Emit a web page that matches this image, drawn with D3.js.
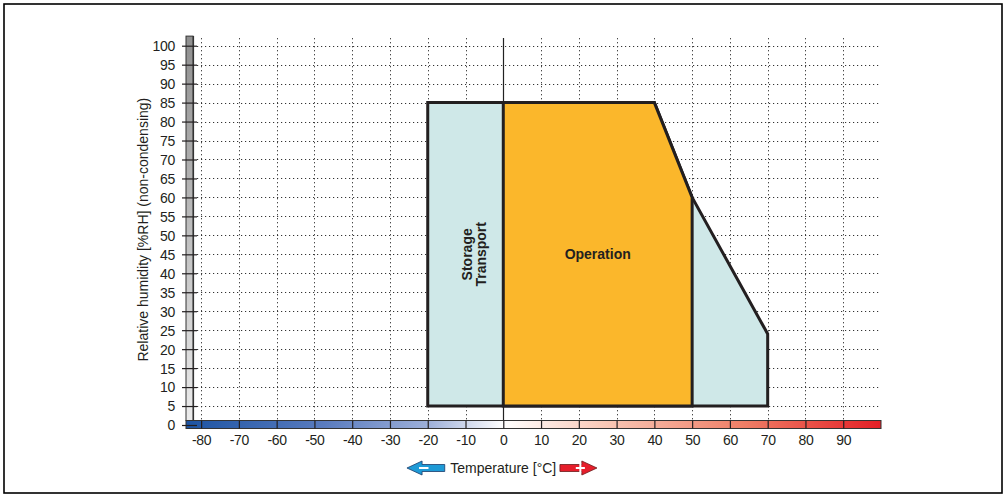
<!DOCTYPE html>
<html>
<head>
<meta charset="utf-8">
<script src="https://cdn.jsdelivr.net/npm/d3@7"></script>
<style>
  html, body { margin: 0; padding: 0; background: #fff; }
  svg { display: block; }
  text { font-family: "Liberation Sans Narrow", "Arial Narrow", "Liberation Sans", Arial, sans-serif; fill: #231f20; }
</style>
</head>
<body>
<svg id="chart" width="1007" height="495"></svg>
<script>
// Temperature / humidity envelope
const xTicks = [-80, -70, -60, -50, -40, -30, -20, -10, 0, 10, 20, 30, 40, 50, 60, 70, 80, 90];
const yTicks = [0, 5, 10, 15, 20, 25, 30, 35, 40, 45, 50, 55, 60, 65, 70, 75, 80, 85, 90, 95, 100];
const storageTemp = [-20, -20, 40, 50, 70, 70];
const storageHum  = [5, 85, 85, 60, 24, 5];
const operationTemp = [0, 0, 40, 50, 50];
const operationHum  = [5, 85, 85, 60, 5];
const areaLabels = ["Storage", "Transport"];
const operationLabel = "Operation";
const xTitle = "Temperature [°C]";
const yTitle = "Relative humidity [%RH] (non-condensing)";
const tempRange = [-84, 100];

const svg = d3.select("#chart");
const x = d3.scaleLinear().domain(tempRange).range([186, 881]);
const y = d3.scaleLinear().domain([0, 100]).range([425, 45.7]);

// outer frame
svg.append("rect").attr("x", 4).attr("y", 4).attr("width", 998).attr("height", 489)
  .attr("fill", "none").attr("stroke", "#000").attr("stroke-width", 1.6);

const defs = svg.append("defs");
const tg = defs.append("linearGradient").attr("id", "tempGrad");
[[0, "#1d54a3"], [0.2, "#5a7cbf"], [0.35, "#9eb0d9"], [0.457, "#ffffff"], [0.6, "#f9c9b8"], [0.8, "#ef7f67"], [1, "#e41f26"]]
  .forEach(([o, c]) => tg.append("stop").attr("offset", o).attr("stop-color", c));
const hg = defs.append("linearGradient").attr("id", "humGrad").attr("x1", 0).attr("y1", 0).attr("x2", 0).attr("y2", 1);
[[0, "#8f8f8f"], [1, "#ececec"]].forEach(([o, c]) => hg.append("stop").attr("offset", o).attr("stop-color", c));

const barTop = 420.5, barBot = 428.5;
const gridTop = y(102);

// grid
const grid = svg.append("g");
grid.selectAll("line.h").data(yTicks.filter(v => v > 0)).join("line")
  .attr("x1", 197).attr("x2", x(tempRange[1]))
  .attr("y1", d => Math.round(y(d)) + 0.5).attr("y2", d => Math.round(y(d)) + 0.5)
  .attr("stroke", "#333").attr("stroke-width", 1).attr("stroke-dasharray", "1.2,2.8");
grid.selectAll("line.v").data(xTicks.filter(v => v !== 0)).join("line")
  .attr("x1", d => Math.round(x(d)) + 0.5).attr("x2", d => Math.round(x(d)) + 0.5)
  .attr("y1", gridTop).attr("y2", barTop)
  .attr("stroke", "#333").attr("stroke-width", 1).attr("stroke-dasharray", "1.2,2.8");

// humidity bar on the y axis
svg.append("rect").attr("x", 186).attr("y", gridTop - 2).attr("width", 7).attr("height", barTop - gridTop + 2)
  .attr("fill", "url(#humGrad)").attr("stroke", "#333").attr("stroke-width", 1);

// zero line
svg.append("line").attr("x1", Math.round(x(0)) + 0.5).attr("x2", Math.round(x(0)) + 0.5)
  .attr("y1", gridTop).attr("y2", barTop).attr("stroke", "#222").attr("stroke-width", 1.2);

// areas
const line = d3.line().x(d => x(d[0])).y(d => y(d[1]));
svg.append("path").datum(d3.zip(storageTemp, storageHum))
  .attr("d", d => line(d) + "Z")
  .attr("fill", "#cfe8e8").attr("stroke", "#231f20").attr("stroke-width", 3).attr("stroke-linejoin", "miter");
svg.append("path").datum(d3.zip(operationTemp, operationHum))
  .attr("d", d => line(d) + "Z")
  .attr("fill", "#fbb72b").attr("stroke", "#231f20").attr("stroke-width", 3).attr("stroke-linejoin", "miter");

// temperature bar
svg.append("rect").attr("x", x(tempRange[0])).attr("y", barTop).attr("width", x(tempRange[1]) - x(tempRange[0]))
  .attr("height", barBot - barTop).attr("fill", "url(#tempGrad)").attr("stroke", "#333").attr("stroke-width", 1);
svg.append("line").attr("x1", 193.5).attr("x2", 193.5).attr("y1", gridTop - 2).attr("y2", barTop)
  .attr("stroke", "#333").attr("stroke-width", 1.2);

// x axis (plain hyphen for negative values)
const xAxis = d3.axisBottom(x).tickValues(xTicks).tickFormat(d => String(d)).tickSize(barBot - barTop).tickPadding(7);
const gx = svg.append("g").attr("transform", `translate(0,${barTop})`).call(xAxis);
gx.select(".domain").remove();
gx.selectAll(".tick line").attr("stroke", "#231f20").attr("stroke-width", 1.2);
gx.selectAll(".tick text").attr("font-size", 14).attr("font-family", null).attr("fill", "#231f20")
  .attr("letter-spacing", "-0.3");

// y axis
const yAxis = d3.axisLeft(y).tickValues(yTicks).tickFormat(d => String(d)).tickSize(15).tickPadding(7);
const gy = svg.append("g").attr("transform", "translate(197,0)").call(yAxis);
gy.select(".domain").remove();
gy.selectAll(".tick line").attr("stroke", "#231f20").attr("stroke-width", 1.2);
gy.selectAll(".tick text").attr("font-size", 14).attr("font-family", null).attr("fill", "#231f20")
  .attr("dy", "0.35em").attr("letter-spacing", "-0.3");

// area labels
svg.append("text").attr("transform", `translate(${x(-8.4)},${y(45)}) rotate(-90)`)
  .attr("text-anchor", "middle").attr("font-size", 14).attr("font-weight", "bold")
  .selectAll("tspan").data(areaLabels).join("tspan")
  .attr("x", 0).attr("dy", (d, i) => i === 0 ? 0 : "1.0em").text(d => d);
svg.append("text").attr("x", x(25)).attr("y", y(45)).attr("dy", "0.35em")
  .attr("text-anchor", "middle").attr("font-size", 14).attr("font-weight", "bold").text(operationLabel);

// titles
svg.append("text").attr("transform", `translate(148,${y(51.5)}) rotate(-90)`)
  .attr("text-anchor", "middle").attr("font-size", 14).text(yTitle);
svg.append("text").attr("x", x(0)).attr("y", 473).attr("text-anchor", "middle").attr("font-size", 14).text(xTitle);

// direction arrows
const arrowY = 468;
const leftArrow = svg.append("g");
leftArrow.append("path")
  .attr("d", `M${x(-25.5)},${arrowY} L${x(-21.5)},${arrowY - 7} L${x(-21.5)},${arrowY - 3.5} L${x(-15.5)},${arrowY - 3.5} L${x(-15.5)},${arrowY + 3.5} L${x(-21.5)},${arrowY + 3.5} L${x(-21.5)},${arrowY + 7} Z`)
  .attr("fill", "#1e9ad6").attr("stroke", "#1b3b6b").attr("stroke-width", 0.8);
leftArrow.append("line").attr("x1", x(-22.3)).attr("x2", x(-19.8)).attr("y1", arrowY).attr("y2", arrowY)
  .attr("stroke", "#fff").attr("stroke-width", 2);
const rightArrow = svg.append("g");
rightArrow.append("path")
  .attr("d", `M${x(24.8)},${arrowY} L${x(20.8)},${arrowY - 7} L${x(20.8)},${arrowY - 3.5} L${x(15)},${arrowY - 3.5} L${x(15)},${arrowY + 3.5} L${x(20.8)},${arrowY + 3.5} L${x(20.8)},${arrowY + 7} Z`)
  .attr("fill", "#e61e2b").attr("stroke", "#6b1b1b").attr("stroke-width", 0.8);
rightArrow.append("line").attr("x1", x(19.2)).attr("x2", x(21.6)).attr("y1", arrowY).attr("y2", arrowY)
  .attr("stroke", "#fff").attr("stroke-width", 2);
rightArrow.append("line").attr("x1", x(20.4)).attr("x2", x(20.4)).attr("y1", arrowY - 4.5).attr("y2", arrowY + 4.5)
  .attr("stroke", "#fff").attr("stroke-width", 2);
</script>
</body>
</html>
